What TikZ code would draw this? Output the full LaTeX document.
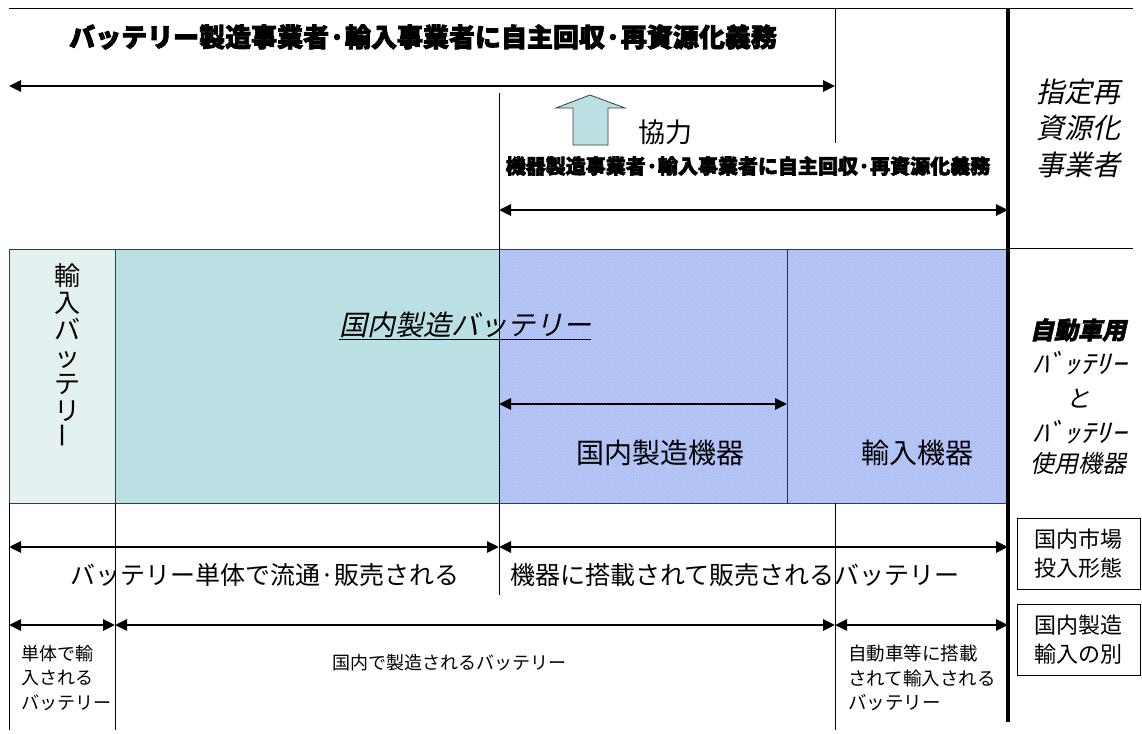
\documentclass[tikz,border=0pt]{standalone}
\usepackage{fontspec}
\setmainfont[BoldFeatures={FakeBold=1.5}]{Noto Sans CJK JP}
\newfontfamily\jpheavy[BoldFeatures={FakeBold=3}]{Noto Sans CJK JP}
\newfontfamily\jpit[FakeSlant=0.22,BoldFeatures={FakeBold=2}]{Noto Sans CJK JP}
\usetikzlibrary{arrows.meta,patterns}
\newcommand\fsz[2]{\fontsize{#1}{#2}\selectfont}
\definecolor{teal}{RGB}{186,224,227}
\definecolor{paleteal}{RGB}{228,241,241}
\definecolor{hatchblue}{RGB}{190,205,249}
\definecolor{hatchline}{RGB}{158,177,240}
\definecolor{divred}{RGB}{90,30,40}
\definecolor{frame}{RGB}{60,60,60}
\begin{document}
\begin{tikzpicture}[x=1pt,y=-1pt,
  thinline/.style={line width=1pt,draw=black},
  thickline/.style={line width=4pt,draw=black},
  dimarrow/.style={line width=2.8pt,{Triangle[length=12pt,width=11pt]}-{Triangle[length=12pt,width=11pt]}},
  lbl/.style={inner sep=0pt,align=center,text=black},
  boxlbl/.style={draw=black,line width=0.8pt,minimum width=123pt,minimum height=71pt,inner sep=0pt,align=center}]
\useasboundingbox[fill=white] (0,0) rectangle (1142,733);

% ---------- band ----------
\fill[paleteal] (9,249) rectangle (115,503);
\fill[teal] (115,249) rectangle (499,503);
\fill[hatchblue] (499,249) rectangle (1008,503);
\fill[pattern=north west lines,pattern color=hatchline] (499,249) rectangle (1008,503);
\draw[line width=1pt,draw=frame] (9,249) rectangle (1008,503);
\draw[line width=1pt,draw=frame] (115,249) -- (115,503);
\draw[line width=1pt,draw=divred] (787,249) -- (787,503);

% ---------- frame lines ----------
\draw[thinline] (9,9) -- (1133,9);
\draw[thinline] (1010,248) -- (1133,248);
\draw[thinline] (835,9) -- (835,143);
\draw[thinline] (499,93) -- (499,595);
\draw[thinline] (9,503) -- (9,730);
\draw[thinline] (115,503) -- (115,730);
\draw[thinline] (835,503) -- (835,730);
\draw[thickline] (1008,9) -- (1008,722);

% ---------- coordinates for arrows ----------
\coordinate (a1l) at (9,86);   \coordinate (a1r) at (835,86);
\coordinate (a2l) at (499,210); \coordinate (a2r) at (1008,210);
\coordinate (a3l) at (499,404); \coordinate (a3r) at (787,404);
\coordinate (b1) at (9,547); \coordinate (b2) at (499,547); \coordinate (b3) at (1008,547);
\coordinate (c1) at (9,625); \coordinate (c2) at (115,625); \coordinate (c3) at (835,625); \coordinate (c4) at (1008,625);

\draw[dimarrow] (a1l) -- (a1r);
\draw[dimarrow] (a2l) -- (a2r);
\draw[dimarrow] (a3l) -- (a3r);
\draw[dimarrow] (b1) -- (b2);
\draw[dimarrow] (b2) -- (b3);
\draw[dimarrow] (c1) -- (c2);
\draw[dimarrow] (c2) -- (c3);
\draw[dimarrow] (c3) -- (c4);

% ---------- block arrow ----------
\draw[fill=teal,draw=frame,line width=0.8pt] (573,145) -- (573,108) -- (556,108) -- (590,95) -- (625,108) -- (608,108) -- (608,145) -- cycle;

% ---------- texts ----------
\node[lbl,font={\jpheavy\fsz{26}{30}\bfseries}] (title) at (423,37) {バッテリー製造事業者·輸入事業者に自主回収·再資源化義務};
\node[lbl,font={\fsz{27}{30}}] (coop) at (665,132) {協力};
\node[lbl,font={\jpheavy\fsz{20}{24}\bfseries}] (sub) at (748,166) {機器製造事業者·輸入事業者に自主回収·再資源化義務};

\node[lbl,font={\fsz{26}{27}}] (imp) at (67,356) {輸\\入\\バ\\ッ\\テ\\リ\\\rotatebox{90}{ー}};
\node[lbl,font={\jpit\fsz{28}{32}}] (dom) at (465,326) {\underline{国内製造バッテリー}};
\node[lbl,font={\fsz{28}{32}}] (domdev) at (660,453) {国内製造機器};
\node[lbl,font={\fsz{28}{32}}] (impdev) at (917,453) {輸入機器};

\node[lbl,font={\fsz{25}{28}}] (sold1) at (265,575) {バッテリー単体で流通·販売される};
\node[lbl,font={\fsz{25}{28}}] (sold2) at (735,575) {機器に搭載されて販売されるバッテリー};

\node[lbl,anchor=west,align=left,font={\fsz{18}{24.5}}] (low1) at (21,678) {単体で輸\\入される\\バッテリー};
\node[lbl,font={\fsz{18}{22}}] (low2) at (449,663) {国内で製造されるバッテリー};
\node[lbl,anchor=west,align=left,font={\fsz{18.5}{24.5}}] (low3) at (848,678) {自動車等に搭載\\されて輸入される\\バッテリー};

% ---------- right column ----------
\node[lbl,font={\jpit\fsz{28}{36.5}}] (rec) at (1078,128) {指定再\\資源化\\事業者};
\node[lbl,font={\jpit\fsz{24}{28}\bfseries}] (r1) at (1078,330) {自動車用};
\node[lbl,font={\jpit\fsz{26}{28}}] (r2) at (1080,363) {\scalebox{1.2}[1]{ﾊﾞｯﾃﾘｰ}};
\node[lbl,font={\jpit\fsz{24}{28}}] (r3) at (1078,398) {と};
\node[lbl,font={\jpit\fsz{26}{28}}] (r4) at (1080,432) {\scalebox{1.2}[1]{ﾊﾞｯﾃﾘｰ}};
\node[lbl,font={\jpit\fsz{24}{28}}] (r5) at (1078,463) {使用機器};

\node[boxlbl,font={\fsz{22}{29}}] (box1) at (1078.5,553.5) {国内市場\\投入形態};
\node[boxlbl,font={\fsz{22}{29}}] (box2) at (1078.5,639.5) {国内製造\\輸入の別};
\end{tikzpicture}
\end{document}
